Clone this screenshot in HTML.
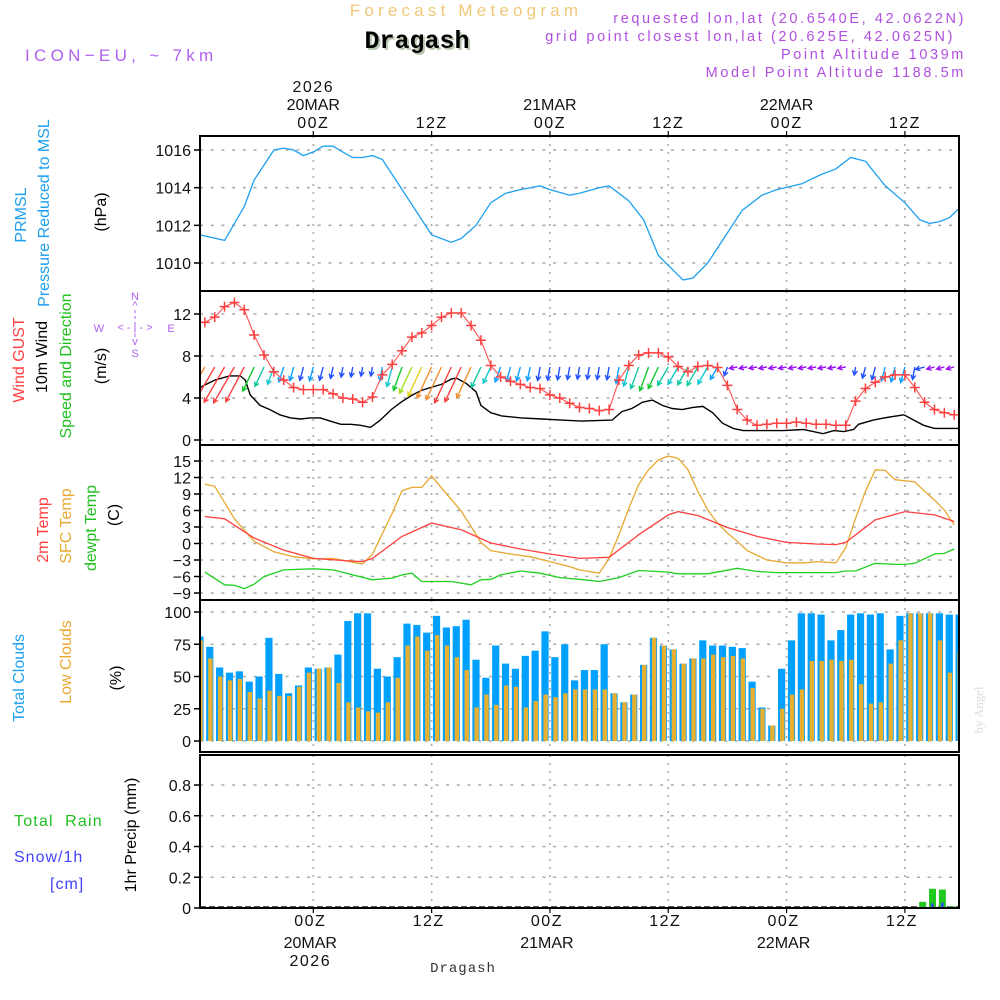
<!DOCTYPE html>
<html><head><meta charset="utf-8"><style>
html,body{margin:0;padding:0;background:#fff;}
svg{display:block;font-family:"Liberation Sans",sans-serif;}
</style></head><body>
<svg id="chart" width="1000" height="1000" viewBox="0 0 1000 1000" xmlns="http://www.w3.org/2000/svg">
<defs><clipPath id="plotclip"><rect x="200" y="136" width="759" height="772"/></clipPath></defs>
<rect x="0" y="0" width="1000" height="1000" fill="#fff"/>
<text x="466" y="16" text-anchor="middle" font-size="17" letter-spacing="4.2" fill="#f0c878">Forecast Meteogram</text>
<text x="419" y="50" text-anchor="middle" font-size="25" font-weight="bold" font-family="Liberation Mono, monospace" fill="#b8c8b0">Dragash</text>
<text x="417" y="48" text-anchor="middle" font-size="25" font-weight="bold" font-family="Liberation Mono, monospace" fill="#000">Dragash</text>
<text x="25" y="61" font-size="17" letter-spacing="4.3" fill="#b060f0">ICON−EU, ~ 7km</text>
<g font-size="14.5" letter-spacing="2.6" fill="#b050e0" text-anchor="end">
<text x="966" y="23">requested lon,lat (20.6540E, 42.0622N)</text>
<text x="955" y="41">grid point closest lon,lat (20.625E, 42.0625N)</text>
<text x="966" y="59">Point Altitude 1039m</text>
<text x="966" y="77">Model Point Altitude 1188.5m</text>
</g>
<g id="grid"></g>
<g id="series" clip-path="url(#plotclip)"></g>
<g id="frames"></g>
<g id="axes" font-size="16" fill="#111"></g>
<g font-size="16">
<text transform="translate(26,215) rotate(-90)" text-anchor="middle" fill="#1ea0f0">PRMSL</text>
<text transform="translate(49,213) rotate(-90)" text-anchor="middle" fill="#1ea0f0">Pressure Reduced to MSL</text>
<text transform="translate(106,212) rotate(-90)" text-anchor="middle" fill="#000">(hPa)</text>
<text transform="translate(24,360) rotate(-90)" text-anchor="middle" fill="#ff4040">Wind GUST</text>
<text transform="translate(47,357) rotate(-90)" text-anchor="middle" fill="#000">10m Wind</text>
<text transform="translate(71,366) rotate(-90)" text-anchor="middle" fill="#20c020">Speed and Direction</text>
<text transform="translate(106,366) rotate(-90)" text-anchor="middle" fill="#000">(m/s)</text>
<text transform="translate(48,530) rotate(-90)" text-anchor="middle" fill="#ff4040">2m Temp</text>
<text transform="translate(71,526) rotate(-90)" text-anchor="middle" fill="#e8a830">SFC Temp</text>
<text transform="translate(96,528) rotate(-90)" text-anchor="middle" fill="#20c020">dewpt Temp</text>
<text transform="translate(119,515) rotate(-90)" text-anchor="middle" fill="#000">(C)</text>
<text transform="translate(24,678) rotate(-90)" text-anchor="middle" fill="#1ea0f0">Total Clouds</text>
<text transform="translate(71,662) rotate(-90)" text-anchor="middle" fill="#e8a830">Low Clouds</text>
<text transform="translate(121,678) rotate(-90)" text-anchor="middle" fill="#000">(%)</text>
<text transform="translate(136,835) rotate(-90)" text-anchor="middle" fill="#000">1hr Precip (mm)</text>
<text x="14" y="826" fill="#20c020" letter-spacing="1.2" xml:space="preserve">Total  Rain</text>
<text x="14" y="862" fill="#4444ff" letter-spacing="1">Snow/1h</text>
<text x="50" y="889" fill="#4444ff" letter-spacing="1">[cm]</text>
</g>
<g fill="#b060f0" font-size="11" text-anchor="middle">
<text x="135" y="300">N</text><text x="135" y="309">^</text>
<text x="99" y="332">W</text><text x="171" y="332">E</text>
<text x="135" y="331">&lt;  -  |  -  &gt;</text>
<text x="135" y="345">v</text><text x="135" y="357">S</text>
<line x1="135" y1="310" x2="135" y2="340" stroke="#b060f0" stroke-width="1" stroke-dasharray="3,3"/>
</g>
<text x="463" y="972" text-anchor="middle" font-size="14" font-family="Liberation Mono, monospace" fill="#333" letter-spacing="1">Dragash</text>
<text transform="translate(983,710) rotate(-90)" text-anchor="middle" font-size="13" font-family="Liberation Serif, serif" fill="#ddd">by Angel</text>
</svg>
<script>
// ---- data ----
const pHours = [-11.5,-9,-7,-6,-4,-3,-2,-1,0,1,2,3.3,4,5,6,7,8,10,12,14,15,16.5,18,19.5,21,23,24,26,27,29,30,32,33.5,35,37.5,38.5,40,41.5,43.5,45.5,47,49.5,51.5,53,54.5,56,58,60,61.5,62.5,63.5,64.5,65.5];
const pressure = [1011.5,1011.2,1013.0,1014.4,1016.0,1016.1,1016.0,1015.7,1015.9,1016.2,1016.2,1015.8,1015.6,1015.6,1015.7,1015.5,1014.7,1013.1,1011.5,1011.1,1011.3,1012.0,1013.2,1013.7,1013.9,1014.1,1013.9,1013.6,1013.7,1014.0,1014.1,1013.3,1012.3,1010.4,1009.1,1009.2,1010.0,1011.2,1012.8,1013.6,1013.9,1014.2,1014.7,1015.0,1015.6,1015.4,1014.1,1013.2,1012.3,1012.1,1012.2,1012.4,1012.9];
const gustStartHour = -11;
const gust = [11.2,11.7,12.7,13.1,12.4,10.0,8.1,6.5,5.7,5.0,4.8,4.8,
 4.8,4.4,4.0,3.9,3.6,4.1,6.2,7.2,8.5,9.8,10.2,10.9,
 11.7,12.1,12.1,10.9,9.5,7.1,6.0,5.6,5.3,5.0,4.9,4.3,
 4.0,3.5,3.1,3.0,2.8,2.9,5.7,7.1,8.1,8.3,8.3,7.9,
 7.0,6.5,7.0,7.1,6.9,5.2,2.9,1.9,1.4,1.5,1.6,1.6,
 1.7,1.6,1.5,1.5,1.4,1.4,3.7,4.9,5.5,6.0,6.2,6.2,
 5.0,3.6,2.9,2.6,2.4,2.4];
const wHours = [-11.5,-10,-8.5,-7.4,-6.9,-6.4,-5.4,-4.4,-3.4,-2.3,-1.3,-0.3,0.7,1.7,2.8,3.8,4.8,5.8,6.8,7.9,8.9,9.9,10.9,11.9,13,14,14.5,15.5,16.5,17,18,19.1,21.1,23.2,25.2,27.2,30.3,31.3,32.3,33.4,34.4,35.4,36.4,37.4,38.5,39.5,40.5,41.5,42.6,43.6,47.7,49.7,51.7,52.8,53.8,54.8,55.3,56.8,57.9,59.9,60.9,61.9,63,66];
const windSpeed = [5.0,5.7,6.1,6.1,5.7,4.3,3.3,2.9,2.4,2.1,2.0,2.1,2.1,1.8,1.5,1.5,1.4,1.2,1.9,2.9,3.6,4.2,4.7,5.0,5.3,5.8,5.9,5.4,4.6,3.3,2.6,2.3,2.1,2.0,1.9,1.8,1.9,2.7,3.0,3.6,3.8,3.3,3.0,2.9,3.1,3.2,2.6,1.6,1.1,0.9,0.9,1.0,0.6,0.9,0.8,1.0,1.5,1.9,2.1,2.4,1.9,1.4,1.1,1.1];
const dirStartHour = -11;
const windDir = [30,30,30,30, 28,25,25, 20,18,15,15, 15,15,12, 10,10,10,10,10, 15,20,25,
 25,25,25,25,25,25,25, 25,20,15,15,12, 10,10,10,10,10,10,10,10, 10,15,20,
 20,25,30,30,30,30,30,30, 20,80,80,80,80,80,80,80,80,80,80,80,80, 10,15,15,15,15,15,10, 75,75,75,75];
const t2Hours = [-11,-9,-6,-3,0,3,5,6,9,12,15,18,21,24,27,30,33,36,37,39,42,45,48,51,53,54,57,60,63,65];
const temp2m = [4.9,4.5,1.0,-1.2,-2.7,-3.1,-3.3,-2.7,1.3,3.7,2.5,0.1,-1.0,-1.9,-2.7,-2.5,1.6,5.2,5.8,5.1,2.9,1.3,0.2,-0.1,-0.2,0.2,4.3,5.8,5.2,4.0];
const sfcHours = [-11,-10,-8,-6,-4,-2,0,2,4,5,6,8,9,10,11,12,13,15,16,17,18,20,22,24,26,27,29,30,31,32,33,34,35,36,37,38,39,40,41,42,43,44,46,48,50,51,53,54,55,56,57,58,59,60,61,62,63,64,65];
const sfcTemp = [10.8,10.4,4.5,0.4,-1.5,-2.4,-2.8,-2.7,-3.4,-3.7,-1.9,5.5,9.6,10.2,10.2,12.3,10.1,5.9,3.1,0.2,-1.3,-1.9,-2.4,-3.3,-4.2,-4.8,-5.4,-2.7,1.6,6.4,10.7,13.4,15.2,15.9,15.5,13.4,9.5,6.1,3.7,1.9,0.4,-1.3,-3.0,-3.5,-3.5,-3.3,-3.5,-0.8,4.6,9.5,13.4,13.3,11.6,11.4,11.2,9.5,7.9,6.1,3.4];
const dewHours = [-11,-9,-8,-7,-6,-5,-3,0,2,4,6,8,9,10,11,14,16,17,18,19,21,23,25,27.5,29,31,33,36,37,40,43,45,47,53,54,55,57,59,60,61,63,64,65];
const dewpt = [-5.2,-7.5,-7.6,-8.2,-7.4,-6.0,-4.8,-4.6,-4.8,-5.7,-6.6,-6.3,-5.7,-5.4,-6.9,-6.9,-7.5,-6.6,-6.5,-5.7,-5.0,-5.4,-6.2,-6.6,-6.9,-6.2,-4.9,-5.2,-5.5,-5.5,-4.5,-5.1,-5.3,-5.3,-5.0,-5.0,-3.6,-3.8,-3.8,-3.6,-1.9,-1.8,-1.0];
const cloudStartHour = -11.5;
const totalClouds = [81,73,57,53,54,46,50,80,52,37,43,57,56,57,67,93,99,99,56,50,65,91,90,84,97,88,89,94,63,49,74,60,56,66,70,85,65,75,47,55,
 55,75,37,30,36,59,80,74,71,60,64,78,74,74,73,72,46,26,12,56,78,99,99,98,78,86,98,99,98,99,71,97,99,99,99,99,98,98];
const lowClouds = [78,64,50,47,48,38,33,39,35,35,42,53,56,57,45,30,26,23,22,30,49,74,81,70,82,74,65,55,26,36,28,43,42,26,31,36,34,37,40,40,
 40,40,37,30,36,59,80,74,71,60,64,64,67,65,66,64,41,25,12,25,36,40,62,62,63,62,63,44,29,30,60,78,99,99,99,78,53,69];
const precipHours = [61.8,62.8,63.8,64.8,65.8];
const rain = [0.04,0.125,0.12,0.01,0.005];
const snow = [0.005,0.03,0.035,0.003,0];
const pTicks = [1010,1012,1014,1016];
const wTicks = [0,4,8,12];
const tTicks = [-9,-6,-3,0,3,6,9,12,15];
const cTicks = [0,25,50,75,100];
const prTicks = [0,0.2,0.4,0.6,0.8];
const prTickLabels = ["0","0.2","0.4","0.6","0.8"];
const hourTicks = [0,12,24,36,48,60];
const hourLabels = ["00Z","12Z","00Z","12Z","00Z","12Z"];
const dayLabels = ["20MAR","","21MAR","","22MAR",""];
const yearLabels = ["2026","","","","",""];

// ---- scales ----
const NS="http://www.w3.org/2000/svg";
const X0=200, X1=959;
const X = h => 313.3 + 9.86*h;
const lin = (v0,y0,v1,y1) => v => y0 + (v-v0)*(y1-y0)/(v1-v0);
const YP = lin(1016,150,1010,263);
const YW = lin(0,440,12,314);
const YT = lin(15,461,-9,593);
const YC = lin(100,612,0,741);
const YR = lin(0,908,0.8,785);
const panels = [[136,291],[291,445],[445,600],[600,752],[755,908]];
function mk(tag, attrs, parent){const e=document.createElementNS(NS,tag);for(const k in attrs)e.setAttribute(k,attrs[k]);parent.appendChild(e);return e;}
const grid=document.getElementById('grid'), series=document.getElementById('series'), frames=document.getElementById('frames'), axes=document.getElementById('axes');

function hgrid(vals, Y){vals.forEach(v=>{const l=mk('line',{x1:X0,x2:X1,y1:Y(v),y2:Y(v),stroke:'#aaa','stroke-width':1.6,'stroke-dasharray':'3,7.7'},grid);

});}
hgrid(pTicks,YP);hgrid(wTicks,YW);hgrid(tTicks,YT);hgrid(cTicks,YC);hgrid(prTicks,YR);
panels.forEach(p=>hourTicks.forEach(h=>{const l=mk('line',{x1:X(h),x2:X(h),y1:p[0],y2:p[1],stroke:'#aaa','stroke-width':1.6,'stroke-dasharray':'2,6'},grid);

}));

function polyline(hs, vs, Y, color, name, w){
  const pts=hs.map((h,i)=>X(h).toFixed(1)+','+Y(vs[i]).toFixed(1)).join(' ');
  const pl=mk('polyline',{points:pts,fill:'none',stroke:color,'stroke-width':w||1.3},series);
  
  
}
polyline(pHours,pressure,YP,'#1ea0f0','pressure-line');
polyline(wHours,windSpeed,YW,'#000','wind-speed-line',1.4);
function interp(hs,vs,h){if(h<=hs[0])return vs[0];for(let i=1;i<hs.length;i++){if(h<=hs[i]){const t=(h-hs[i-1])/(hs[i]-hs[i-1]);return vs[i-1]+t*(vs[i]-vs[i-1]);}}return vs[vs.length-1];}
function spdColor(s){if(s<1.15)return '#9a10f0';if(s<2.05)return '#2050ff';if(s<2.5)return '#10a0ff';if(s<3.0)return '#10c8d0';if(s<3.4)return '#10c8a0';if(s<3.9)return '#10c830';if(s<4.4)return '#a0e020';if(s<4.9)return '#e8d020';if(s<5.6)return '#f09030';return '#ff4040';}
windDir.forEach((d,i)=>{
  const h=dirStartHour+i, s=interp(wHours,windSpeed,h), L=Math.max(8,6.8*s);
  const r=d*Math.PI/180, ux=-Math.sin(r), uy=Math.cos(r);
  const x0=X(h), y0=367, x1=x0+ux*L, y1=y0+uy*L, c=spdColor(s);
  const hl=5, a=0.5;
  const bx=-ux, by=-uy;
  const p1=[x1+hl*(bx*Math.cos(a)-by*Math.sin(a)), y1+hl*(bx*Math.sin(a)+by*Math.cos(a))];
  const p2=[x1+hl*(bx*Math.cos(-a)-by*Math.sin(-a)), y1+hl*(bx*Math.sin(-a)+by*Math.cos(-a))];
  const g=mk('path',{d:`M${x0},${y0}L${x1},${y1}M${p1[0]},${p1[1]}L${x1},${y1}L${p2[0]},${p2[1]}`,stroke:c,'stroke-width':1.4,fill:'none'},series);
  
  
});
const gHours=gust.map((v,i)=>gustStartHour+i);
polyline(gHours,gust,YW,'#ff5050','wind-gust-line',1.1);
gust.forEach((v,i)=>{const x=X(gHours[i]),y=YW(v);
  const m=mk('path',{d:`M${x-5},${y}H${x+5}M${x},${y-5}V${y+5}`,stroke:'#ff4040','stroke-width':1.5},series);
  
  });
polyline(sfcHours,sfcTemp,YT,'#e8a830','sfc-temp-line');
polyline(t2Hours,temp2m,YT,'#ff4040','temp-2m-line');
polyline(dewHours,dewpt,YT,'#20d020','dewpt-line');
totalClouds.forEach((v,i)=>{const c=X(cloudStartHour+i);
  const b=mk('rect',{x:c-3.6,y:YC(v),width:7.2,height:YC(0)-YC(v),fill:'#00a0ff'},series);
  
  
  const lv=lowClouds[i];
  const l=mk('rect',{x:c-1.6,y:YC(lv),width:4.4,height:YC(0)-YC(lv),fill:'#e8b030'},series);
  
  });
const zl=mk('line',{x1:X0,x2:X1,y1:907,y2:907,stroke:'#222','stroke-width':1.5,'stroke-dasharray':'6,3'},series);


rain.forEach((v,i)=>{const c=X(precipHours[i]);
  const b=mk('rect',{x:c-3.5,y:YR(v),width:7,height:YR(0)-YR(v),fill:'#20c820'},series);
  
  
  const sv=snow[i];
  const s=mk('rect',{x:c-1.2,y:YR(sv),width:2.4,height:YR(0)-YR(sv),fill:'#3344ff'},series);
  
  });

panels.forEach(p=>{const r=mk('rect',{x:X0,y:p[0],width:X1-X0,height:p[1]-p[0],fill:'none',stroke:'#000','stroke-width':2},frames);

});

function yticks(vals, labels, Y){vals.forEach((v,i)=>{const y=Y(v);
  const t=mk('line',{x1:194,x2:200,y1:y,y2:y,stroke:'#000','stroke-width':1.5},axes);
  
  
  const tx=mk('text',{x:191,y:y+6,'text-anchor':'end'},axes);tx.textContent=labels?labels[i]:(v<0?'−'+(-v):String(v));
  
  });}
yticks(pTicks,null,YP);yticks(wTicks,null,YW);yticks(tTicks,null,YT);yticks(cTicks,null,YC);yticks(prTicks,prTickLabels,YR);

hourTicks.forEach((h,i)=>{const x=X(h);
  const t1=mk('line',{x1:x,x2:x,y1:131,y2:136,stroke:'#000','stroke-width':1.2},axes);
  
  
  const t2=mk('line',{x1:x,x2:x,y1:908,y2:913,stroke:'#000','stroke-width':1.2},axes);
  
  
  const a=mk('text',{x:x,y:128,'text-anchor':'middle','letter-spacing':'1.5'},axes);a.textContent=hourLabels[i];
  
  
  const b=mk('text',{x:x-3,y:926,'text-anchor':'middle','letter-spacing':'1.5'},axes);b.textContent=hourLabels[i];
  
  
  if(dayLabels[i]){
    const d1=mk('text',{x:x,y:110,'text-anchor':'middle'},axes);d1.textContent=dayLabels[i];
    
    
    const d2=mk('text',{x:x-3,y:948,'text-anchor':'middle'},axes);d2.textContent=dayLabels[i];
    
    }
  if(yearLabels[i]){
    const y1=mk('text',{x:x,y:92,'text-anchor':'middle','letter-spacing':'1.5'},axes);y1.textContent=yearLabels[i];
    
    
    const y2=mk('text',{x:x-3,y:966,'text-anchor':'middle','letter-spacing':'1.5'},axes);y2.textContent=yearLabels[i];
    
    }
});
</script>
</body></html>
